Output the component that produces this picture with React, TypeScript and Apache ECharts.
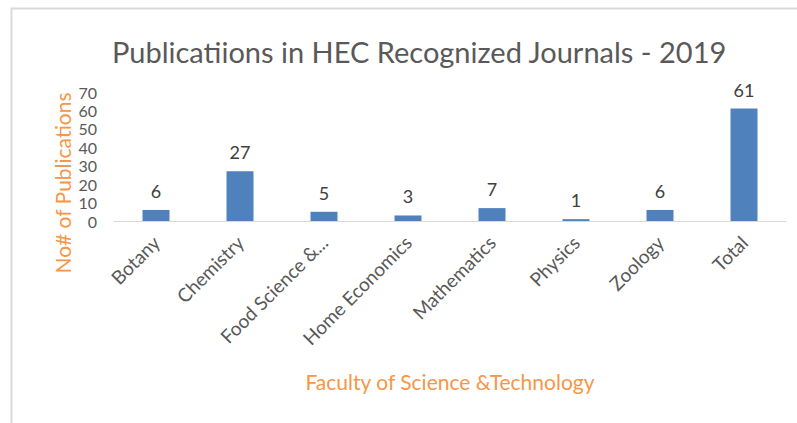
import React, { useEffect, useRef } from "react";
import * as echarts from "echarts";

const categories = ["Botany", "Chemistry", "Food Science &...", "Home Economics", "Mathematics", "Physics", "Zoology", "Total"];
const publications = [6, 27, 5, 3, 7, 1, 6, 61];
const yTicks = { min: 0, max: 70, interval: 10 };

export default function App() {
  const ref = useRef<HTMLDivElement>(null);
  useEffect(() => {
    const chart = echarts.init(ref.current!, null, { renderer: "svg" });
    const font = "Lato, 'Open Sans', sans-serif";
    chart.setOption({
      animation: false,
      backgroundColor: "#ffffff",
      title: {
        text: "Publicatiions in HEC Recognized Journals - 2019",
        left: 107,
        top: 32,
        textStyle: { fontFamily: font, fontSize: 29, fontWeight: "normal", color: "#595959" },
      },
      graphic: [
        {
          type: "rect",
          shape: { x: 11.5, y: 8.5, width: 1000, height: 1000 },
          style: { fill: "none", stroke: "#d9d9d9", lineWidth: 2 },
          silent: true,
        },
        {
          type: "text",
          x: 62,
          y: 183,
          rotation: Math.PI / 2,
          style: {
            text: "No# of Publications",
            align: "center",
            verticalAlign: "middle",
            fontFamily: font,
            fontSize: 21,
            fill: "#f79646",
          },
        },
      ],
      grid: { left: 114, right: 11, top: 92, bottom: 202, containLabel: false },
      xAxis: {
        type: "category",
        data: categories,
        name: "Faculty of Science &Technology",
        nameLocation: "middle",
        nameGap: 150,
        nameTextStyle: { fontFamily: font, fontSize: 21, color: "#f79646" },
        axisLine: { lineStyle: { color: "#d9d9d9", width: 1 } },
        axisTick: { show: false },
        axisLabel: { rotate: 45, margin: 18, fontFamily: font, fontSize: 19, color: "#595959", interval: 0 },
      },
      yAxis: {
        type: "value",
        min: yTicks.min,
        max: yTicks.max,
        interval: yTicks.interval,
        axisLine: { show: false },
        axisTick: { show: false },
        splitLine: { show: false },
        axisLabel: { margin: 17, fontFamily: font, fontSize: 16, lineHeight: 17, color: "#595959" },
      },
      series: [
        {
          type: "bar",
          data: publications,
          barWidth: 27,
          itemStyle: { color: "#4f81bd" },
          label: {
            show: true,
            position: "top",
            distance: 10,
            fontFamily: font,
            fontSize: 18,
            color: "#404040",
          },
        },
      ],
    });
    return () => chart.dispose();
  }, []);
  return <div ref={ref} style={{ position: "fixed", left: 0, top: 0, width: 797, height: 423 }} />;
}
